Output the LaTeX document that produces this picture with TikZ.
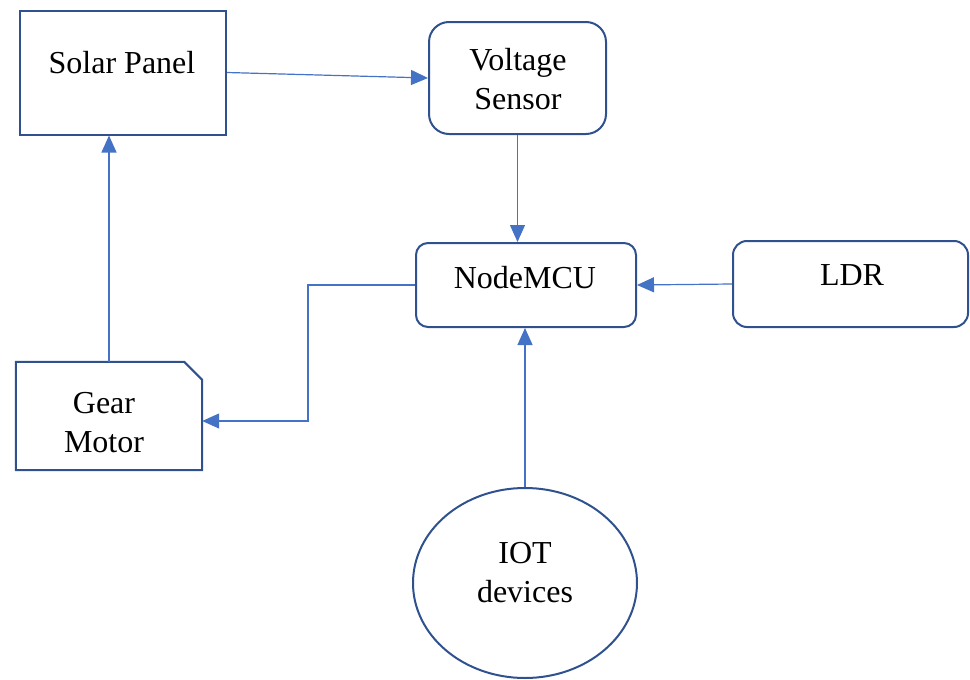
\documentclass[tikz,border=0pt]{standalone}
\usepackage{fontspec}
\setmainfont{Liberation Serif}
\usetikzlibrary{arrows.meta,calc,shapes.geometric}
\definecolor{boxblue}{RGB}{47,82,143}
\definecolor{lineblue}{RGB}{68,114,196}
\begin{document}
\begin{tikzpicture}[x=1pt,y=-1pt,
  boxline/.style={draw=boxblue,line width=2pt},
  plainbox/.style={boxline,rectangle,inner sep=0pt},
  roundbox/.style={boxline,rectangle,rounded corners=#1,inner sep=0pt},
  label text/.style={font=\fontsize{32}{39}\selectfont,anchor=base,inner sep=0pt},
  conn/.style={draw=lineblue,line width=1.2pt,-{Triangle[length=17pt,width=15pt]}}]
\useasboundingbox (0,0) rectangle (970,680);
% boxes
\node[plainbox,minimum width=206pt,minimum height=124pt] (solar) at (123,72.5) {};
\node[roundbox=20pt,minimum width=177pt,minimum height=112pt] (volt) at (517.5,78) {};
\node[roundbox=12pt,minimum width=220pt,minimum height=84pt] (nmcu) at (526,285) {};
\node[roundbox=14pt,minimum width=235pt,minimum height=86pt] (ldr) at (850.5,284) {};
\node[inner sep=0pt,minimum width=186pt,minimum height=108pt] (gear) at (109,416) {};
\draw[boxline] (gear.south west) -- (gear.north west) -- ($(gear.north east)+(-18,0)$)
  -- ($(gear.north east)+(0,18)$) -- (gear.south east) -- cycle;
\node[boxline,ellipse,inner sep=0pt,minimum width=224pt,minimum height=190pt] (iot) at (525,583) {};
% texts
\node[label text] (solarT) at (122,73) {Solar Panel};
\node[label text] (voltT1) at (518,70) {Voltage};
\node[label text] (voltT2) at (518,109) {Sensor};
\node[label text] (nmcuT) at (525,288) {NodeMCU};
\node[label text] (ldrT) at (852,285) {LDR};
\node[label text] (gearT1) at (104,413) {Gear};
\node[label text] (gearT2) at (104,452) {Motor};
\node[label text] (iotT1) at (525,563) {IOT};
\node[label text] (iotT2) at (525,602) {devices};
% connectors
\draw[conn] (solar.east) -- (volt.west);
\draw[conn] (volt.south) -- (volt.south |- nmcu.north);
\draw[conn] (ldr.west) -- (nmcu.east);
\draw[conn] (iot.north) -- (iot.north |- nmcu.south);
\draw[conn] (nmcu.west) -- (308,285) |- ([yshift=-5pt]gear.east);
\draw[conn] (gear.north) -- (gear.north |- solar.south);
\end{tikzpicture}
\end{document}
